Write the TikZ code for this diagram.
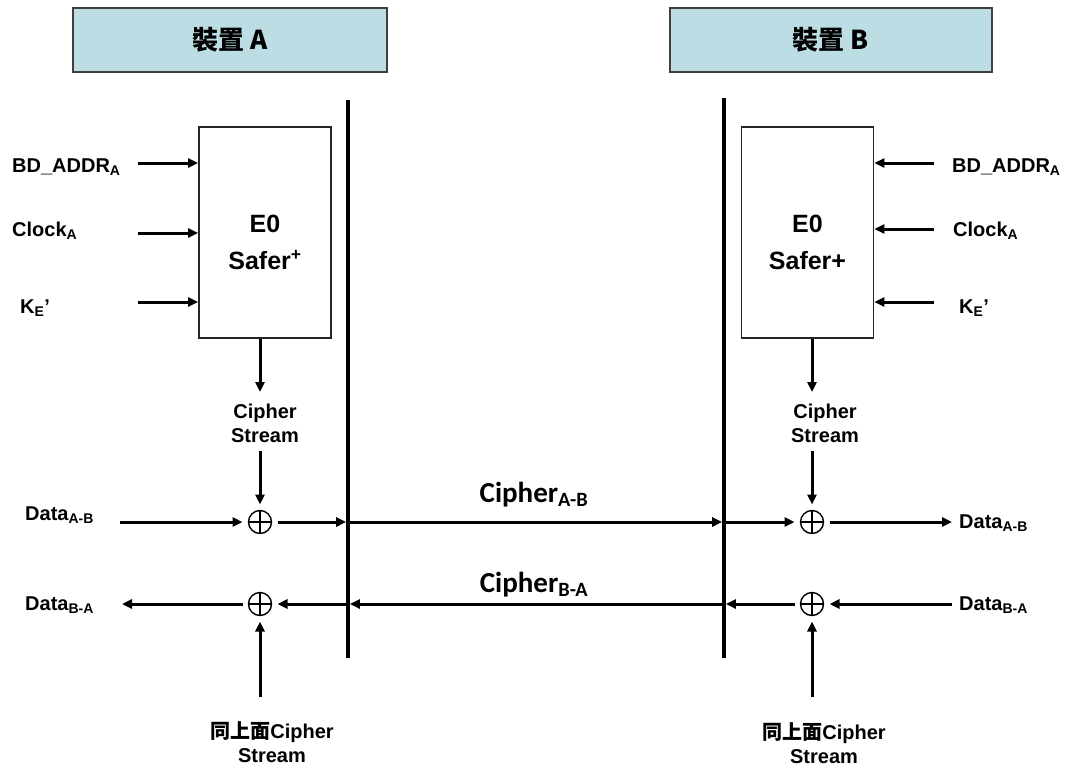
\documentclass[tikz,border=0pt]{standalone}
\usepackage{fontspec}
\setmainfont{Liberation Sans}
\newfontfamily\cjk{Noto Sans CJK TC}
\newfontfamily\calib{Carlito}
\usetikzlibrary{arrows.meta,positioning,calc}
\definecolor{hdrblue}{RGB}{188,221,228}

\begin{document}
\begin{tikzpicture}[x=1pt,y=-1pt,>={Triangle[length=10pt,width=9pt]},font=\bfseries,
  arr/.style={->,line width=3pt},
  bus/.style={line width=3.6pt},
  header/.style={draw=black!75,line width=1.8pt,fill=hdrblue,minimum width=#1,
    minimum height=64pt,inner sep=0pt,font=\cjk\bfseries\fontsize{26}{28}\selectfont},
  e0box/.style={draw=black!85,line width=1.8pt,minimum width=132pt,minimum height=211pt},
  e0text/.style={align=center,font=\bfseries\fontsize{25}{37}\selectfont},
  lbl/.style={inner sep=0pt,font=\bfseries\fontsize{20}{24}\selectfont},
  cslbl/.style={lbl,align=center},
  ciphlbl/.style={inner sep=0pt,font=\calib\bfseries\fontsize{29}{32}\selectfont},
  xor/.style={circle,draw,line width=1.4pt,minimum size=23pt,inner sep=0pt,outer sep=6pt,
    path picture={\draw[line width=1.4pt]
      (path picture bounding box.north) -- (path picture bounding box.south)
      (path picture bounding box.west) -- (path picture bounding box.east);}}]
  \useasboundingbox (0,0) rectangle (1068,771);

  % devices
  \node[header=314pt] (hdrA) at (230,40) {裝置 A};
  \node[header=322pt] (hdrB) at (831,40) {裝置 B};

  \coordinate (topA) at (348,100); \coordinate (botA) at (348,658);
  \coordinate (topB) at (724,98);  \coordinate (botB) at (724,658);
  \draw[bus] (topA) -- (botA);
  \draw[bus] (topB) -- (botB);

  \node[e0box] (boxA) at (265,232.5) {};
  \node[e0text,yshift=-10pt] (txtA) at (boxA.center) {E0\\Safer\textsuperscript{+}};
  \node[e0box] (boxB) at (807.5,232.5) {};
  \node[e0text,yshift=-10pt] (txtB) at (boxB.center) {E0\\Safer+};

  % inputs
  \node[lbl,anchor=base west] (adA) at (12,172) {BD\_ADDR\textsubscript{A}};
  \node[lbl,anchor=base west] (ckA) at (12,236) {Clock\textsubscript{A}};
  \node[lbl,anchor=base west] (keA) at (20,313) {K\textsubscript{E}’};
  \node[lbl,anchor=base west] (adB) at (952,172) {BD\_ADDR\textsubscript{A}};
  \node[lbl,anchor=base west] (ckB) at (953,236) {Clock\textsubscript{A}};
  \node[lbl,anchor=base west] (keB) at (959,313) {K\textsubscript{E}’};

  \coordinate (iA1) at (138,163); \coordinate (iA2) at (138,233); \coordinate (iA3) at (138,302);
  \coordinate (iB1) at (934,163); \coordinate (iB2) at (934,229); \coordinate (iB3) at (934,302);
  \draw[arr] (iA1) -- (iA1 -| boxA.west);
  \draw[arr] (iA2) -- (iA2 -| boxA.west);
  \draw[arr] (iA3) -- (iA3 -| boxA.west);
  \draw[arr] (iB1) -- (iB1 -| boxB.east);
  \draw[arr] (iB2) -- (iB2 -| boxB.east);
  \draw[arr] (iB3) -- (iB3 -| boxB.east);

  % cipher streams and xor
  \node[xor] (xA1) at (260,522) {};
  \node[xor] (xA2) at (260,604) {};
  \node[xor] (xB1) at (812,522) {};
  \node[xor] (xB2) at (812,604) {};

  \node[cslbl,anchor=north] (csA) at (265,404) {Cipher\\Stream};
  \node[cslbl,anchor=north] (csB) at (825,404) {Cipher\\Stream};
  \draw[arr,shorten >=12pt] (boxA.south -| xA1) -- (csA.north -| xA1);
  \draw[arr,shorten <=8pt] (csA.south -| xA1) -- (xA1);
  \draw[arr,shorten >=12pt] (boxB.south -| xB1) -- (csB.north -| xB1);
  \draw[arr,shorten <=8pt] (csB.south -| xB1) -- (xB1);

  % data paths
  \node[lbl,anchor=base west] (dlA1) at (25,520) {Data\textsubscript{A-B}};
  \node[lbl,anchor=base west] (dlA2) at (25,610) {Data\textsubscript{B-A}};
  \node[lbl,anchor=base west] (dlB1) at (959,528) {Data\textsubscript{A-B}};
  \node[lbl,anchor=base west] (dlB2) at (959,610) {Data\textsubscript{B-A}};

  \coordinate (dA1) at (120,522); \coordinate (dA2) at (122,604);
  \coordinate (dB1) at (952,522); \coordinate (dB2) at (952,604);
  \coordinate (pA1) at (topA |- xA1); \coordinate (pB1) at (topB |- xB1);
  \coordinate (pA2) at (topA |- xA2); \coordinate (pB2) at (topB |- xB2);

  \draw[arr] (dA1) -- (xA1);
  \draw[arr,shorten >=1.8pt] (xA1) -- (pA1);
  \draw[arr,shorten >=1.8pt] (pA1) -- (pB1);
  \draw[arr] (pB1) -- (xB1);
  \draw[arr] (xB1) -- (dB1);

  \draw[arr] (dB2) -- (xB2);
  \draw[arr,shorten >=1.8pt] (xB2) -- (pB2);
  \draw[arr,shorten >=1.8pt] (pB2) -- (pA2);
  \draw[arr] (pA2) -- (xA2);
  \draw[arr] (xA2) -- (dA2);

  \node[ciphlbl,anchor=base] (cAB) at (534,502) {Cipher\textsubscript{A-B}};
  \node[ciphlbl,anchor=base] (cBA) at (534,592) {Cipher\textsubscript{B-A}};

  % from the stream above
  \node[cslbl,anchor=north] (upA) at (272,721) {{\cjk 同上面}Cipher\\Stream};
  \node[cslbl,anchor=north] (upB) at (824,722) {{\cjk 同上面}Cipher\\Stream};
  \coordinate (uA) at (260,697); \coordinate (uB) at (812,697);
  \draw[arr] (uA) -- (xA2);
  \draw[arr] (uB) -- (xB2);
\end{tikzpicture}
\end{document}
